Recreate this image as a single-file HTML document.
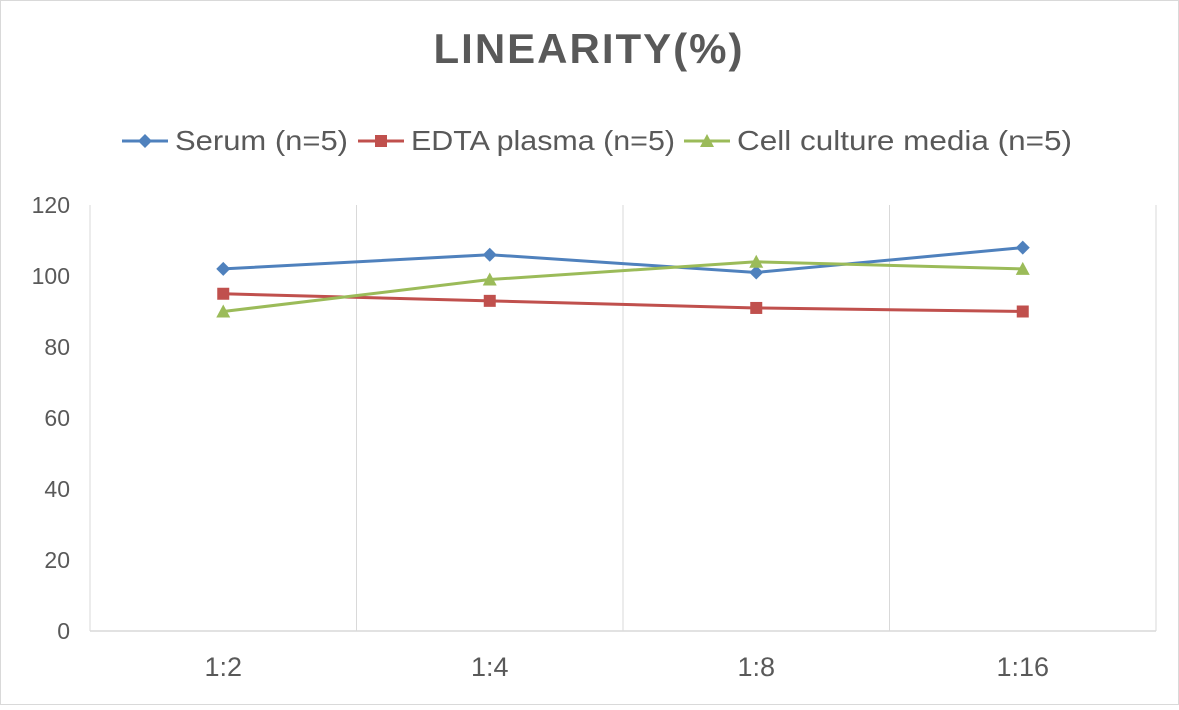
<!DOCTYPE html>
<html><head><meta charset="utf-8"><style>
body{margin:0;background:#fff;font-family:"Liberation Sans",sans-serif}
</style></head><body>
<svg width="1179" height="705" viewBox="0 0 1179 705" xmlns="http://www.w3.org/2000/svg">
<rect x="0.5" y="0.5" width="1178" height="704" fill="#fff" stroke="#d9d9d9"/>
<text x="589" y="63" text-anchor="middle" font-size="42" font-weight="bold" fill="#595959" letter-spacing="2">LINEARITY(%)</text>
<g id="legend"></g>
<g id="grid"></g>
<g id="ticks"></g>
<g id="series"></g>
</svg>
<script>
const categories=["1:2","1:4","1:8","1:16"];
const serum=[102,106,101,108];
const edta=[95,93,91,90];
const ccm=[90,99,104,102];
const yTicks=[0,20,40,60,80,100,120];
const seriesNames=["Serum (n=5)","EDTA plasma (n=5)","Cell culture media (n=5)"];
const NS="http://www.w3.org/2000/svg";
const L=90,R=1156,T=205,B=631,yMax=120;
const bw=(R-L)/categories.length;
const xs=i=>L+bw*(i+0.5);
const ys=v=>B-(v/yMax)*(B-T);
function mk(tag,attrs,parent){const e=document.createElementNS(NS,tag);for(const k in attrs)e.setAttribute(k,attrs[k]);parent.appendChild(e);return e;}
const grid=document.getElementById('grid'),ticks=document.getElementById('ticks'),ser=document.getElementById('series'),leg=document.getElementById('legend');
for(let i=0;i<=categories.length;i++){const l=mk('line',{x1:L+bw*i,x2:L+bw*i,y1:T,y2:B,stroke:'#d9d9d9','stroke-width':1},grid);

}
const ax=mk('line',{x1:L,x2:R,y1:B,y2:B,stroke:'#d9d9d9','stroke-width':1.5},grid);


yTicks.forEach(v=>{const t=mk('text',{x:70,y:ys(v)+8,'text-anchor':'end','font-size':23,fill:'#595959'},ticks);t.textContent=v;

});
categories.forEach((c,i)=>{const t=mk('text',{x:xs(i),y:676,'text-anchor':'middle','font-size':27,fill:'#595959'},ticks);t.textContent=c;

});
function marker(type,x,y,color,p){
 if(type==='d')return mk('polygon',{points:`${x},${y-7} ${x+7},${y} ${x},${y+7} ${x-7},${y}`,fill:color},p);
 if(type==='s')return mk('rect',{x:x-6,y:y-6,width:12,height:12,fill:color},p);
 return mk('polygon',{points:`${x},${y-7} ${x+7},${y+6} ${x-7},${y+6}`,fill:color},p);}
const defs=[[serum,'#4f81bd','d','serum-series'],[edta,'#c0504d','s','edta-plasma-series'],[ccm,'#9bbb59','t','cell-culture-media-series']];
defs.forEach(([vals,col,m,name])=>{
 const g=mk('g',{},ser);
 
 
 const pl=mk('polyline',{points:vals.map((v,i)=>xs(i)+','+ys(v)).join(' '),fill:'none',stroke:col,'stroke-width':3},g);
 
 
 vals.forEach((v,i)=>{const mm=marker(m,xs(i),ys(v),col,g);
 
 });
});
const legX=[122,358,684];
const legW=[173,264,335];
defs.forEach(([v,col,m],i)=>{
 const g=mk('g',{},leg);
 
 
 mk('line',{x1:legX[i],x2:legX[i]+46,y1:141,y2:141,stroke:col,'stroke-width':3},g);
 marker(m,legX[i]+23,141,col,g);
 const t=mk('text',{x:legX[i]+53,y:150,'font-size':28,fill:'#595959',textLength:legW[i],lengthAdjust:'spacingAndGlyphs'},g);t.textContent=seriesNames[i];
});
</script>
</body></html>
